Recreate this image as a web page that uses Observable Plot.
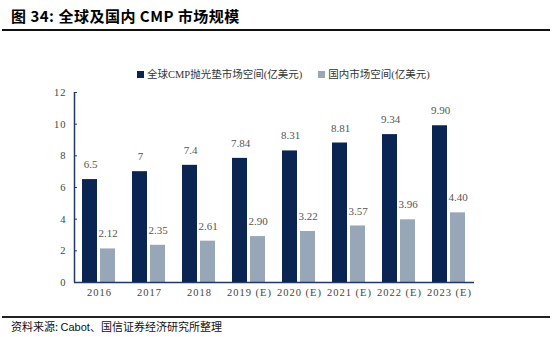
<!DOCTYPE html>
<html><head><meta charset="utf-8">
<script src="https://cdn.jsdelivr.net/npm/d3@7"></script>
<script src="https://cdn.jsdelivr.net/npm/@observablehq/plot@0.6"></script>
<style>
html,body{margin:0;padding:0;background:#fff;}
#wrap{position:relative;width:554px;height:337px;overflow:hidden;font-family:"Noto Sans CJK SC",sans-serif;}
#title{position:absolute;left:11px;top:5px;font-size:15px;font-weight:bold;color:#000;letter-spacing:0.5px;white-space:nowrap;}
#rule1{position:absolute;left:2px;width:548px;top:29px;height:2px;background:#111;}
#legend{position:absolute;left:137px;top:66px;font-size:10.5px;color:#333;white-space:nowrap;font-family:"Liberation Serif","Noto Sans CJK SC",serif;}
#legend span.sw{display:inline-block;width:7px;height:7px;margin-right:3px;vertical-align:0px;}
#rule2{position:absolute;left:2px;width:548px;top:316px;height:1.5px;background:#222;}
#caption{position:absolute;left:11px;top:318px;font-size:11px;color:#111;white-space:nowrap;}
#caption .lat{font-family:"Liberation Sans",Arial,sans-serif;}
#chart{position:absolute;left:0;top:0;}
</style></head>
<body><div id="wrap">
<div id="chart"></div>
<div id="title">图 34: 全球及国内 CMP 市场规模</div>
<div id="rule1"></div>
<div id="legend"></div>
<div id="rule2"></div>
<div id="caption">资料来源: <span class="lat">Cabot</span>、国信证券经济研究所整理</div>
</div>
<script>
const years = ["2016","2017","2018","2019 (E)","2020 (E)","2021 (E)","2022 (E)","2023 (E)"];
const globalVals = [6.5, 7, 7.4, 7.84, 8.31, 8.81, 9.34, 9.90];
const globalLabels = ["6.5","7","7.4","7.84","8.31","8.81","9.34","9.90"];
const domesticVals = [2.12, 2.35, 2.61, 2.90, 3.22, 3.57, 3.96, 4.40];
const domesticLabels = ["2.12","2.35","2.61","2.90","3.22","3.57","3.96","4.40"];
const seriesNames = ["全球CMP抛光垫市场空间(亿美元)", "国内市场空间(亿美元)"];
const seriesColors = ["#0b2552", "#97a7b7"];
const yTicks = [0, 2, 4, 6, 8, 10, 12];

const gData = years.map((y, i) => ({year: y, v: globalVals[i], label: globalLabels[i]}));
const dData = years.map((y, i) => ({year: y, v: domesticVals[i], label: domesticLabels[i]}));

const numFont = "Liberation Serif, serif";
const chart = Plot.plot({
  width: 554,
  height: 337,
  marginLeft: 74,
  marginRight: 80,
  marginTop: 92,
  marginBottom: 55,
  style: {fontFamily: numFont, fontSize: "10.5px", color: "#444", background: "transparent"},
  x: {domain: years, padding: 0, label: null, tickSize: 0, tickPadding: 6},
  y: {domain: [0, 12], ticks: yTicks, label: null, tickSize: 0, tickPadding: 8},
  marks: [
    Plot.barY(gData, {x: "year", y: "v", fill: seriesColors[0], insetLeft: 8, insetRight: 27}),
    Plot.barY(dData, {x: "year", y: "v", fill: seriesColors[1], insetLeft: 26, insetRight: 9}),
    Plot.text(gData, {x: "year", y: "v", text: "label", dx: -9, dy: -15, fill: "#555", fontSize: 11, fontFamily: numFont, letterSpacing: 1.5}),
    Plot.text(dData, {x: "year", y: "v", text: "label", dx: 8.5, dy: -15, fill: "#555", fontSize: 11, fontFamily: numFont, letterSpacing: 1.5}),
    Plot.tickY(yTicks, {y: d => d, x: () => years[0], insetRight: 47, stroke: "#1f3864", strokeWidth: 1}),
    Plot.ruleY([0], {stroke: "#1f3864", strokeWidth: 1.5}),
    Plot.ruleX([years[0]], {dx: -25, y1: 0, y2: 12, stroke: "#1f3864", strokeWidth: 1.5})
  ]
});
document.getElementById("chart").appendChild(chart);
chart.querySelectorAll("g[aria-label='x-axis tick label'] text, g[aria-label='y-axis tick label'] text").forEach(t => t.setAttribute("letter-spacing", "1"));

const lg = document.getElementById("legend");
seriesNames.forEach((n, i) => {
  const s = document.createElement("span");
  s.style.marginRight = i === 0 ? "16px" : "0";
  s.innerHTML = `<span class="sw" style="background:${seriesColors[i]}"></span>${n}`;
  lg.appendChild(s);
});
</script>
</body></html>
